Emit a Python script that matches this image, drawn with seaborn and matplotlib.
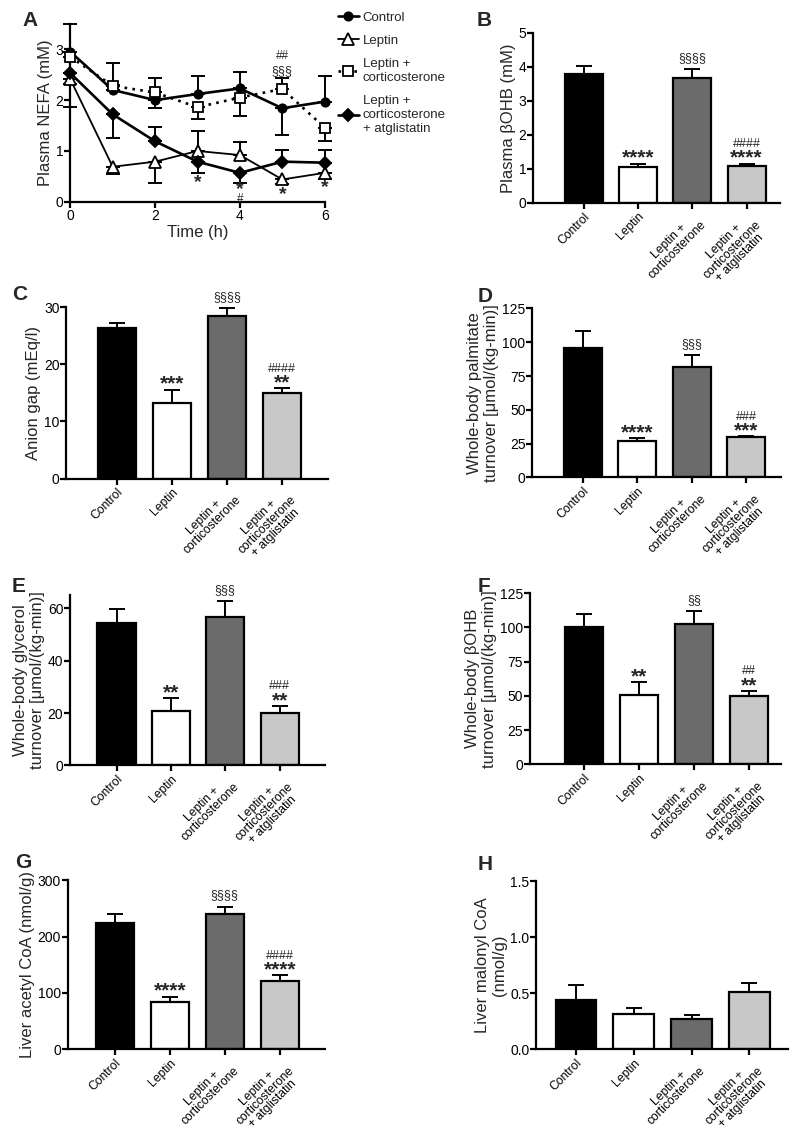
import seaborn as sns
import matplotlib.pyplot as plt
import matplotlib.transforms as mtransforms
import pandas as pd
import numpy as np

sns.set_style("ticks")
plt.rcParams['font.family'] = ['Liberation Sans', 'DejaVu Sans']
plt.rcParams['axes.linewidth'] = 1.6
plt.rcParams['xtick.major.width'] = 1.6
plt.rcParams['ytick.major.width'] = 1.6
plt.rcParams['xtick.major.size'] = 4.5
plt.rcParams['ytick.major.size'] = 4
plt.rcParams['xtick.color'] = 'black'
plt.rcParams['ytick.color'] = 'black'
plt.rcParams['axes.edgecolor'] = 'black'

# groups shared by all bar panels
groups = ["Control", "Leptin", "Leptin +\ncorticosterone", "Leptin +\ncorticosterone\n+ atglistatin"]
bar_colors = ["#000000", "#ffffff", "#6b6b6b", "#c8c8c8"]

# panel A: plasma NEFA time course (signed error: + drawn up, - drawn down)
times = [0, 1, 2, 3, 4, 5, 6]
nefa_control = [2.95, 2.20, 2.00, 2.12, 2.23, 1.84, 1.97]
nefa_control_err = [0.55, 0.10, -0.16, 0.35, 0.32, -0.52, 0.51]
nefa_leptin = [2.41, 0.69, 0.79, 1.00, 0.92, 0.44, 0.57]
nefa_leptin_err = [-0.10, -0.14, -0.42, 0.40, 0.25, -0.08, -0.13]
nefa_cort = [2.85, 2.28, 2.15, 1.86, 2.05, 2.22, 1.46]
nefa_cort_err = [0.10, 0.44, 0.28, -0.24, -0.36, 0.21, -0.26]
nefa_atgl = [2.53, 1.72, 1.19, 0.79, 0.57, 0.79, 0.77]
nefa_atgl_err = [-0.67, -0.47, 0.29, -0.22, -0.20, 0.22, 0.25]

# bar panels
bohb = [3.80, 1.07, 3.66, 1.08]
bohb_err = [0.22, 0.08, 0.27, 0.07]
anion = [26.4, 13.3, 28.4, 15.0]
anion_err = [0.8, 2.3, 1.4, 0.8]
palmitate = [96.0, 27.1, 81.4, 29.8]
palmitate_err = [12.3, 1.7, 9.1, 0.7]
glycerol = [54.5, 20.7, 56.6, 20.2]
glycerol_err = [5.3, 5.1, 6.2, 2.5]
bohb_turn = [100.1, 50.8, 102.3, 49.8]
bohb_turn_err = [9.4, 9.2, 9.3, 3.8]
acetyl = [225.0, 83.5, 241.0, 120.5]
acetyl_err = [15.0, 10.0, 12.0, 11.0]
malonyl = [0.445, 0.318, 0.272, 0.515]
malonyl_err = [0.13, 0.05, 0.033, 0.08]

fig = plt.figure(figsize=(7.9, 11.34), dpi=100)

# ---------- A ----------
axA = fig.add_axes([0.089, 0.822, 0.322, 0.157])
series = [
    ("Control", nefa_control, nefa_control_err, dict(marker='o', ms=6, lw=1.9, ls='-', mfc='black')),
    ("Leptin", nefa_leptin, nefa_leptin_err, dict(marker='^', ms=8, lw=1.3, ls='-', mfc='white')),
    ("Leptin +\ncorticosterone", nefa_cort, nefa_cort_err, dict(marker='s', ms=7, lw=1.9, ls=(0, (1, 2)), mfc='white')),
    ("Leptin +\ncorticosterone\n+ atglistatin", nefa_atgl, nefa_atgl_err, dict(marker='D', ms=6.5, lw=1.9, ls='-', mfc='black')),
]
for name, vals, errs, st in series:
    vals = np.array(vals)
    errs = np.array(errs)
    up = np.where(errs > 0, errs, 0)
    dn = np.where(errs < 0, -errs, 0)
    axA.errorbar(times, vals, yerr=[dn, up], fmt='none', ecolor='black',
                 elinewidth=1.4, capsize=5, capthick=1.4, clip_on=False, zorder=2)
    sns.lineplot(x=times, y=vals, ax=axA, color='black', label=name,
                 marker=st['marker'], markersize=st['ms'], linewidth=st['lw'],
                 linestyle=st['ls'], markerfacecolor=st['mfc'],
                 markeredgecolor='black', markeredgewidth=1.3, clip_on=False, zorder=3)
axA.set_xlim(0, 6)
axA.set_ylim(0, 3.5)
axA.set_xticks([0, 2, 4, 6])
axA.set_yticks([0, 1, 2, 3])
axA.tick_params(labelsize=10, pad=1)
axA.set_xlabel("Time (h)", fontsize=12, labelpad=1)
axA.set_ylabel("Plasma NEFA (mM)", fontsize=12, labelpad=2)
sns.despine(ax=axA)
axA.legend(loc='upper left', bbox_to_anchor=(1.03, 1.1), frameon=False,
           fontsize=9.5, handlelength=1.6, handletextpad=0.3, labelspacing=0.85,
           borderaxespad=0)
# significance marks on A
for x, y, s, fs in [(3, 0.38, "*", 14), (4, 0.25, "*", 14), (4, 0.05, "#", 8.5),
                    (5, 0.14, "*", 14), (6, 0.28, "*", 14),
                    (5, 2.58, "§§§", 9), (5, 2.86, "##", 8.5)]:
    axA.text(x, y, s, ha='center', va='center', fontsize=fs,
             fontweight='bold' if s == "*" else 'normal')

label_shift = mtransforms.ScaledTranslation(0.06, -0.02, fig.dpi_scale_trans)


def bar_panel(rect, vals, errs, ylabel, ylim, yticks, xlim, stars, marks, ytl=None):
    ax = fig.add_axes(rect)
    df = pd.DataFrame({"group": groups, "value": vals})
    sns.barplot(data=df, x="group", y="value", hue="group", palette=bar_colors,
                order=groups, hue_order=groups, legend=False, width=0.7,
                edgecolor='black', linewidth=1.6, ax=ax, zorder=2)
    xs = np.arange(len(groups))
    ax.errorbar(xs, vals, yerr=[np.zeros(4), errs], fmt='none', ecolor='black',
                elinewidth=1.4, capsize=6, capthick=1.4, zorder=1)
    for x, v, e, st, mk in zip(xs, vals, errs, stars, marks):
        top = v + e
        if st:
            ax.annotate(st, (x, top), xytext=(0, 0), textcoords='offset points',
                        ha='center', va='baseline', fontsize=15, fontweight='bold')
        if mk:
            off = 12 if st else 6
            ax.annotate(mk, (x, top), xytext=(0, off), textcoords='offset points',
                        ha='center', va='baseline', fontsize=9)
    ax.set_xlim(*xlim)
    ax.set_ylim(*ylim)
    ax.set_yticks(yticks)
    if ytl is not None:
        ax.set_yticklabels(ytl)
    ax.set_xticks(xs)
    ax.set_xticklabels(groups, rotation=45, ha='right', rotation_mode='anchor',
                       multialignment='center', fontsize=8.7, linespacing=0.92)
    for lab in ax.get_xticklabels():
        lab.set_transform(lab.get_transform() + label_shift)
    ax.tick_params(axis='y', labelsize=10, pad=1)
    ax.tick_params(axis='x', pad=1)
    ax.set_xlabel("")
    ax.set_ylabel(ylabel, fontsize=12, labelpad=2, multialignment='center')
    sns.despine(ax=ax)
    return ax


bar_panel([0.675, 0.821, 0.312, 0.150], bohb, bohb_err, "Plasma βOHB (mM)",
          (0, 5), [0, 1, 2, 3, 4, 5], (-0.93, 3.61),
          ["", "****", "", "****"], ["", "", "§§§§", "####"])
bar_panel([0.084, 0.578, 0.331, 0.151], anion, anion_err, "Anion gap (mEq/l)",
          (0, 30), [0, 10, 20, 30], (-0.92, 3.83),
          ["", "***", "", "**"], ["", "", "§§§§", "####"])
bar_panel([0.674, 0.579, 0.315, 0.149], palmitate, palmitate_err,
          "Whole-body palmitate\nturnover [μmol/(kg-min)]",
          (0, 125), [0, 25, 50, 75, 100, 125], (-0.92, 3.64),
          ["", "****", "", "***"], ["", "", "§§§", "###"])
bar_panel([0.089, 0.325, 0.322, 0.150], glycerol, glycerol_err,
          "Whole-body glycerol\nturnover [μmol/(kg-min)]",
          (0, 65), [0, 20, 40, 60], (-0.85, 3.83),
          ["", "**", "", "**"], ["", "", "§§§", "###"])
bar_panel([0.671, 0.326, 0.318, 0.151], bohb_turn, bohb_turn_err,
          "Whole-body βOHB\nturnover [μmol/(kg-min)]",
          (0, 125), [0, 25, 50, 75, 100, 125], (-0.98, 3.59),
          ["", "**", "", "**"], ["", "", "§§", "##"])
bar_panel([0.086, 0.0747, 0.325, 0.149], acetyl, acetyl_err,
          "Liver acetyl CoA (nmol/g)",
          (0, 300), [0, 100, 200, 300], (-0.86, 3.82),
          ["", "****", "", "****"], ["", "", "§§§§", "####"])
bar_panel([0.679, 0.0747, 0.318, 0.148], malonyl, malonyl_err,
          "Liver malonyl CoA\n(nmol/g)",
          (0, 1.5), [0, 0.5, 1.0, 1.5], (-0.68, 3.66),
          ["", "", "", ""], ["", "", "", ""], ytl=["0.0", "0.5", "1.0", "1.5"])

# panel letters
for letter, x, y in [("A", 22, 20), ("B", 477, 20), ("C", 12, 294), ("D", 478, 296),
                     ("E", 12, 586), ("F", 478, 587), ("G", 15, 862), ("H", 478, 864)]:
    fig.text(x / 790, 1 - y / 1134, letter, fontsize=15, fontweight='bold',
             ha='left', va='center')

fig.savefig("out.png", dpi=100)
